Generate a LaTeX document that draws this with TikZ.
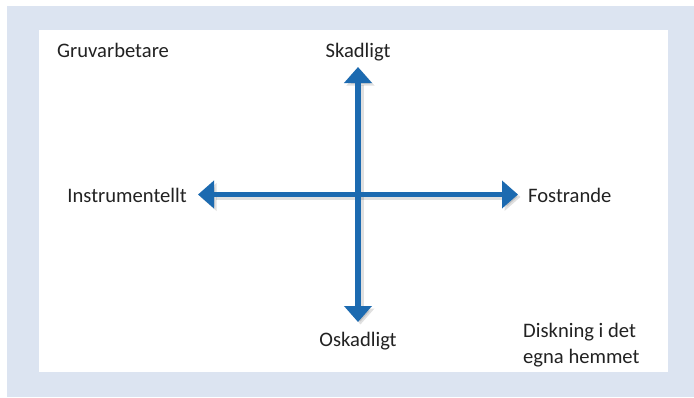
\documentclass[tikz,border=0pt]{standalone}
\usepackage{fontspec}
\setmainfont{Carlito}
\usetikzlibrary{arrows.meta}
\definecolor{bgblue}{RGB}{220,228,241}
\definecolor{arrowblue}{RGB}{28,106,176}
\definecolor{txt}{RGB}{34,34,34}
\tikzset{
  lbl/.style={inner sep=0pt, text=txt, font=\fontsize{20.6}{25.5}\selectfont},
  axis/.style={draw=arrowblue, line width=#1, {Triangle[width=27pt,length=16pt]}-{Triangle[width=27pt,length=16pt]}},
  axshadow/.style={draw=black, opacity=0.12, line width=#1, {Triangle[width=27pt,length=16pt]}-{Triangle[width=27pt,length=16pt]}}
}
\begin{document}
\begin{tikzpicture}[x=1pt,y=-1pt]
\useasboundingbox (0,0) rectangle (694,397);
\fill[bgblue] (7,6) rectangle (694,397);
\fill[white] (39,30) rectangle (668,372);
% axis end points
\coordinate (top) at (358,67);
\coordinate (bot) at (358,322);
\coordinate (lft) at (198,194.5);
\coordinate (rgt) at (518,194.5);
\coordinate (tops) at (360.5,69.5);
\coordinate (bots) at (360.5,324.5);
\coordinate (lfts) at (200.5,197);
\coordinate (rgts) at (520.5,197);
% shadows
\draw[axshadow=5pt] (lfts) -- (rgts);
\draw[axshadow=6.5pt] (bots) -- (tops);
% axes
\draw[axis=5pt] (lft) -- (rgt);
\draw[axis=6.5pt] (bot) -- (top);
% labels
\node[lbl, anchor=base] (skad) at (358,57) {Skadligt};
\node[lbl, anchor=base] (oskad) at (358,346) {Oskadligt};
\node[lbl, anchor=base west] (gruv) at (57,57) {Gruvarbetare};
\node[lbl, anchor=base east] (instr) at (187,202) {Instrumentellt};
\node[lbl, anchor=base west] (fost) at (528,202) {Fostrande};
\node[lbl, anchor=base west, align=left] (disk) at (523,363) {Diskning i det\\egna hemmet};
\end{tikzpicture}
\end{document}
